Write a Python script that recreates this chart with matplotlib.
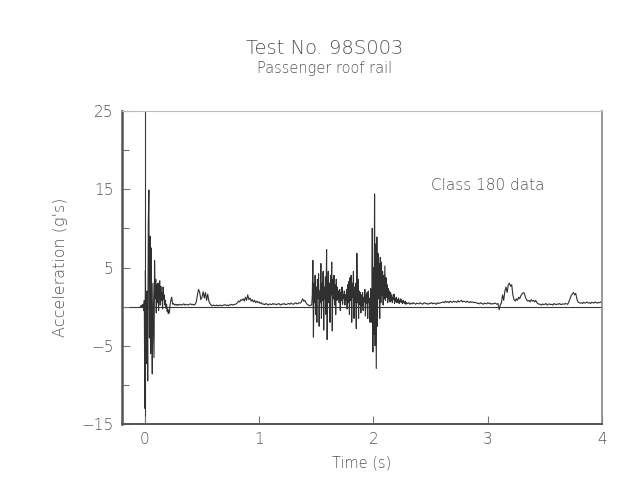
import numpy as np
import matplotlib
matplotlib.use("Agg")
import matplotlib.pyplot as plt

# ---------------- data ----------------
title = "Test No. 98S003"
subtitle = "Passenger roof rail"
note = "Class 180 data"
x_label = "Time (s)"
y_label = "Acceleration (g's)"
x_ticks = [0, 1, 2, 3, 4]
y_ticks = [-15, -5, 5, 15, 25]
y_minor = [-10, 0, 10, 20]

# segment 1: impact, t0=-0.04, dt=0.005
seg1_t0, seg1_dt = -0.04, 0.005
seg1_acc = [0.0, 0.1, 0.0, 0.2, 0.0, 0.3, -0.5, 0.8,
            -13.0, 4.6, -5.0, -7.3, 2.0, -9.5, 10.5, 14.9, -4.0, 9.0,
            -6.0, 7.5, -3.0, -8.6, 3.0, -2.0, -6.5, 5.9, 1.0, 3.5,
            -0.8, 2.8, 0.5, 3.0, -0.5, 2.0, 3.3, 0.2, 2.6, 0.8,
            1.8, -0.3, 2.5, 0.9, 1.5, 0.2, 0.8, -0.2, 0.3, -0.6,
            -0.3, -0.9, -0.5, -0.8, 0.2, 0.6, 1.0, 1.2, 0.6, 0.3,
            0.4, 0.3, 0.2, 0.25, 0.3, 0.2, 0.25, 0.2, 0.3, 0.2]

# segment 2: quiet stretch, t0=0.30, dt=0.01
seg2_t0, seg2_dt = 0.30, 0.01
seg2_acc = [0.2,
            0.3, 0.2, 0.25, 0.35, 0.2, 0.3, 0.25, 0.2, 0.3, 0.35, 0.25, 0.3, 0.2, 0.3,
            0.6, 1.5, 2.2, 1.8, 0.9, 1.2, 1.9, 1.1, 1.8, 0.8, 1.6, 0.7, 0.4, 0.2,
            0.1, 0.2, 0.15, 0.1, 0.2, 0.1, 0.15, 0.2, 0.1, 0.15, 0.2, 0.25, 0.15,
            0.2, 0.1, 0.25, 0.2, 0.3, 0.2, 0.25, 0.3, 0.35,
            0.5, 0.7, 0.6, 0.9, 0.8, 1.0, 0.7, 1.2, 0.8, 1.5, 0.9, 1.1, 0.7, 0.9,
            0.6, 0.8, 0.5, 0.7, 0.5, 0.6, 0.4, 0.5,
            0.3, 0.35, 0.25, 0.4, 0.3, 0.2, 0.35, 0.3, 0.25, 0.4, 0.3, 0.35,
            0.25, 0.3, 0.4, 0.3, 0.2, 0.35, 0.3, 0.4, 0.25, 0.3, 0.35, 0.4,
            0.3, 0.45, 0.35, 0.3, 0.4, 0.5, 0.35, 0.4, 0.5, 0.45,
            0.6, 1.0, 0.7, 0.8, 0.5, 0.3, 0.2, 0.1, 0.2]

# segment 3: rollover activity, t0=1.46, dt=0.005
seg3_t0, seg3_dt = 1.46, 0.005
seg3_acc = [0.2, 1.5, 5.9, -3.9, 3.0, 0.5, 4.0, -1.0,
            2.5, -2.0, 3.5, 1.0, 4.2, -2.5, 2.0, 0.5, 5.5, -1.5,
            3.0, 0.8, 4.5, -3.0, 2.5, 1.0, 3.8, -1.0, 7.3, -4.2,
            2.0, 4.5, 0.5, 3.0, -2.0, 4.0, 1.5, 5.7, -3.1, 3.5,
            1.0, 4.0, 0.2, 2.8, -1.0, 3.5, 0.8, 2.5, 1.0, 2.0,
            0.5, 2.2, -0.5, 1.8, 0.8, 2.5, 0.3, 1.5, 1.0, 2.0,
            0.2, 1.5, 0.8, 2.2, -0.3, 2.8, 0.5, 3.2, -1.0, 3.7,
            0.8, 4.0, -2.0, 3.0, 1.2, 4.5, -1.5, 2.5, 0.5, 3.0,
            -2.8, 6.8, 0.5, 3.5, -1.5, 2.0, 0.3, 1.8, -0.8, 1.5,
            0.2, 1.8, -0.5, 1.2, 0.6, 2.2, -1.2, 1.5, 0.4, 1.8,
            -1.5, 2.0, 0.5, 1.0, -2.0, 2.3, 1.8, -2.0, 10.0, -5.8,
            5.0, -3.5, 14.4, -5.0, 8.0, -7.9, 8.9, -2.5, 6.8, 1.0,
            5.5, -1.5, 6.3, 0.5, 5.7, 1.5, 4.5, 0.2, 4.0, 1.0,
            5.2, 0.8, 3.7, 1.2, 2.8, 0.5, 2.3, 1.0, 2.0, 0.6,
            1.8, 0.8, 1.5, 0.5, 1.2, 0.9, 1.6, 0.4, 1.0, 0.7,
            1.2, 0.5, 0.9, 0.6, 1.1, 0.4, 0.8, 0.6, 1.0, 0.5,
            0.7, 0.4, 0.8, 0.5, 0.6, 0.4, 0.7, 0.3, 0.5, 0.4]

# segment 4: late stretch, t0=2.30, dt=0.01
seg4_t0, seg4_dt = 2.30, 0.01
seg4_acc = [0.4, 0.5, 0.3, 0.45, 0.35, 0.5, 0.4, 0.3, 0.45, 0.4,
            0.35, 0.5, 0.4, 0.3, 0.45, 0.5, 0.35, 0.4, 0.3, 0.45,
            0.4, 0.5, 0.35, 0.45, 0.4, 0.3, 0.5, 0.4, 0.45, 0.5,
            0.55, 0.6, 0.5, 0.7, 0.55, 0.65, 0.5, 0.7, 0.6, 0.55,
            0.7, 0.6, 0.65, 0.55, 0.75, 0.6, 0.7, 0.8, 0.6, 0.7,
            0.65, 0.55, 0.7, 0.6, 0.5, 0.65, 0.55, 0.6, 0.5, 0.55, 0.5,
            0.4, 0.45, 0.35, 0.5, 0.4, 0.3, 0.45, 0.4, 0.35, 0.5,
            0.4, 0.45, 0.3, 0.4, 0.35, 0.45, 0.4, 0.3, 0.4,
            -0.4, 0.2, 0.5, 1.5, 0.8, 2.0, 2.5, 1.8, 2.8, 3.0,
            2.6, 2.8, 1.5, 0.9, 0.7, 1.0, 0.8, 1.2, 1.0, 1.4,
            1.6, 1.8, 1.7, 1.2, 0.9, 0.7, 0.8, 0.6, 0.9, 0.7,
            0.8, 0.6, 0.8, 0.5, 0.4, 0.3,
            0.3, 0.2, 0.35, 0.25, 0.3, 0.4, 0.2, 0.3, 0.35, 0.25,
            0.3, 0.2, 0.4, 0.3, 0.25, 0.35, 0.3, 0.4, 0.25, 0.3,
            0.35, 0.3, 0.4, 0.35, 0.3,
            0.6, 1.0, 1.4, 1.6, 1.8, 1.5, 1.7, 1.0, 0.6, 0.5,
            0.45, 0.5, 0.4, 0.55, 0.45, 0.5, 0.6, 0.45, 0.5, 0.4,
            0.55, 0.5, 0.45, 0.6, 0.5, 0.45, 0.55, 0.5, 0.6, 0.5]

segments = [(seg1_t0, seg1_dt, seg1_acc), (seg2_t0, seg2_dt, seg2_acc),
            (seg3_t0, seg3_dt, seg3_acc), (seg4_t0, seg4_dt, seg4_acc)]

t_all, a_all = [], []
for t0, dt, acc in segments:
    t_all.append(t0 + dt * np.arange(len(acc)))
    a_all.append(np.asarray(acc, dtype=float))
time = np.concatenate(t_all)
accel = np.concatenate(a_all)

# ---------------- figure ----------------
plt.rcParams['font.family'] = ['DejaVu Sans']
txt = '#555555'
fw = 'light'

fig = plt.figure(figsize=(6.23, 4.84), dpi=100)
ax = fig.add_axes([122 / 623, 1 - 424 / 484, (602 - 122) / 623, (424 - 111) / 484])

ax.axhline(0, color='#3a3a3a', lw=0.8, zorder=1)
ax.axvline(0, color='#3a3a3a', lw=0.8, zorder=1)
ax.plot(time, accel, color='#303030', lw=0.8, zorder=2)

ax.set_xlim(-0.2, 4.0)
ax.set_ylim(-15, 25)
ax.set_xticks(x_ticks)
ax.set_yticks(y_ticks)
ax.set_yticks(y_minor, minor=True)
ax.tick_params(axis='both', which='both', direction='in', colors='#777777',
               labelcolor=txt, labelsize=11)
ax.tick_params(axis='both', which='major', length=6, width=0.8, pad=6)
ax.tick_params(axis='y', which='minor', length=5, width=0.8)

ax.spines['left'].set_color('#555555')
ax.spines['left'].set_linewidth(1.8)
ax.spines['bottom'].set_color('#555555')
ax.spines['bottom'].set_linewidth(1.4)
ax.spines['top'].set_color('#bbbbbb')
ax.spines['top'].set_linewidth(0.8)
ax.spines['right'].set_color('#888888')
ax.spines['right'].set_linewidth(1.2)

for lab in ax.get_xticklabels() + ax.get_yticklabels():
    lab.set_fontweight(fw)

ax.set_xlabel(x_label, fontsize=10.5, color=txt, fontweight=fw, labelpad=6)
ax.set_ylabel(y_label, fontsize=11.5, color=txt, fontweight=fw, labelpad=10)

ax.text(2.50, 15.5, note, fontsize=11, color=txt, fontweight=fw,
        ha='left', va='center')

fig.text(325 / 623, 1 - 48 / 484, title, fontsize=14, color=txt,
         fontweight=fw, ha='center', va='center')
fig.text(325 / 623, 1 - 68 / 484, subtitle, fontsize=10.5, color=txt,
         fontweight=fw, ha='center', va='center')

fig.savefig('out.png', dpi=100, facecolor='white')
